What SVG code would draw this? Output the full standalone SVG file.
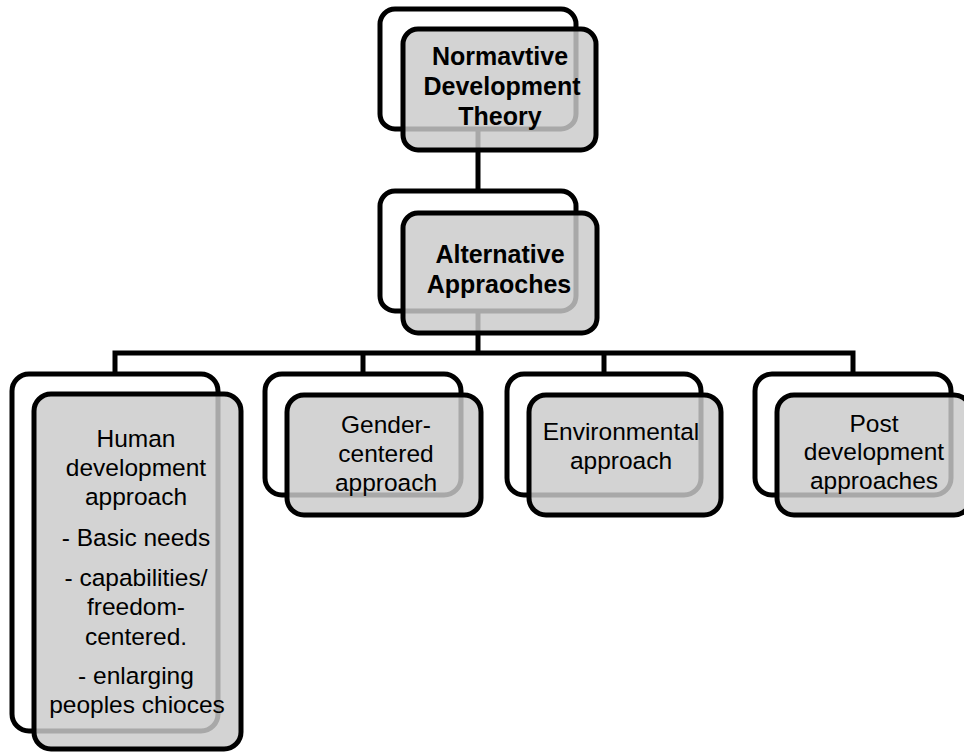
<svg xmlns="http://www.w3.org/2000/svg" width="964" height="753" viewBox="0 0 964 753">
<style>
.back{fill:#fff;stroke:#000;stroke-width:5}
.front{fill:#cacaca;fill-opacity:0.83;stroke:#000;stroke-width:5}
.conn{fill:none;stroke:#000;stroke-width:5}
.tb{font-family:"Liberation Sans",Arial,sans-serif;font-weight:bold;font-size:25px;text-anchor:middle;fill:#000}
.t{font-family:"Liberation Sans",Arial,sans-serif;font-size:24.5px;text-anchor:middle;fill:#000}
</style>
<rect width="964" height="753" fill="#fff"/>
<g id="n1-back"><rect class="back" x="380" y="9" width="196" height="120" rx="15"/></g>
<g id="n2-back"><rect class="back" x="380" y="191" width="196" height="120" rx="15"/></g>
<g id="n3-back"><rect class="back" x="12" y="374" width="206" height="357" rx="17"/></g>
<g id="n4-back"><rect class="back" x="265" y="374" width="196" height="121" rx="17"/></g>
<g id="n5-back"><rect class="back" x="507" y="374" width="194" height="121" rx="17"/></g>
<g id="n6-back"><rect class="back" x="755" y="374" width="196" height="121" rx="17"/></g>
<g id="connectors">
<path class="conn" d="M478 129 V191"/>
<path class="conn" d="M478 311 V353"/>
<path class="conn" d="M115 374 V353 H853 V374"/>
<path class="conn" d="M363 353 V374"/>
<path class="conn" d="M604 353 V374"/>
</g>
<g id="n1">
<rect class="front" x="403" y="29" width="193" height="121" rx="15"/>
<text class="tb" x="500" y="65">Normavtive</text>
<text class="tb" x="502" y="95">Development</text>
<text class="tb" x="500" y="125">Theory</text>
</g>
<g id="n2">
<rect class="front" x="403" y="213" width="194" height="120" rx="15"/>
<text class="tb" x="500" y="263">Alternative</text>
<text class="tb" x="499" y="293">Appraoches</text>
</g>
<g id="n3">
<rect class="front" x="34" y="394" width="207" height="355" rx="17"/>
<text class="t" x="136" y="447">Human</text>
<text class="t" x="136" y="476">development</text>
<text class="t" x="136" y="505">approach</text>
<text class="t" x="136" y="546">- Basic needs</text>
<text class="t" x="136" y="586">- capabilities/</text>
<text class="t" x="136" y="615">freedom-</text>
<text class="t" x="136" y="645">centered.</text>
<text class="t" x="136" y="684">- enlarging</text>
<text class="t" x="137" y="713">peoples chioces</text>
</g>
<g id="n4">
<rect class="front" x="287" y="395" width="194" height="120" rx="17"/>
<text class="t" x="386" y="433">Gender-</text>
<text class="t" x="386" y="462">centered</text>
<text class="t" x="386" y="491">approach</text>
</g>
<g id="n5">
<rect class="front" x="529" y="395" width="192" height="120" rx="17"/>
<text class="t" x="621" y="440">Environmental</text>
<text class="t" x="621" y="469">approach</text>
</g>
<g id="n6">
<rect class="front" x="777" y="395" width="194" height="120" rx="17"/>
<text class="t" x="874" y="432">Post</text>
<text class="t" x="874" y="460">development</text>
<text class="t" x="874" y="489">approaches</text>
</g>
</svg>
